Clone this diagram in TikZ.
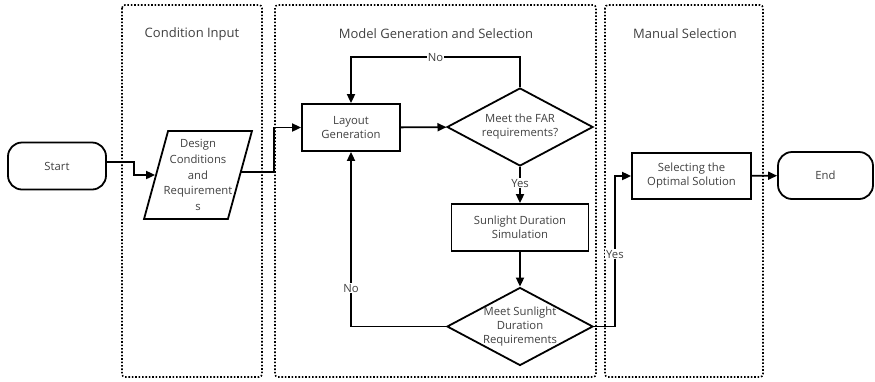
\documentclass[tikz,border=0pt]{standalone}
\usepackage{fontspec}
\setmainfont{Open Sans}
\usetikzlibrary{shapes.geometric,arrows.meta}
\definecolor{txt}{HTML}{404040}
\begin{document}
\begin{tikzpicture}[x=1pt,y=-1pt,
 panel/.style={draw, line width=1.6pt, dash pattern=on 1.6pt off 1.8pt, rounded corners=3pt},
 title/.style={font=\fontsize{13}{15}\selectfont, text=txt},
 box/.style={draw, line width=1.8pt, minimum width=98pt, minimum height=47pt, align=center, font=\fontsize{11.3}{14}\selectfont, text=txt, inner sep=2pt},
 term/.style={box, rounded corners=14pt},
 dia/.style={draw, diamond, line width=1.8pt, minimum width=146pt, minimum height=78pt, inner sep=0pt, aspect=1.87},
 diatext/.style={align=center, font=\fontsize{11.3}{14}\selectfont, text=txt, inner sep=0pt},
 lbl/.style={font=\fontsize{11.3}{13}\selectfont, text=txt, fill=white, inner sep=1pt},
 conn/.style={line width=1.8pt, -{Triangle[length=9pt,width=8pt]}},
]
\useasboundingbox (0,0) rectangle (875,381);
% panels
\draw[panel] (122,5) rectangle (262,377);
\draw[panel] (275,5) rectangle (596,377);
\draw[panel] (605,5) rectangle (763,377);
\node[title] (t1) at (192,34) {Condition Input};
\node[title] (t2) at (436,34) {Model Generation and Selection};
\node[title] (t3) at (685,34) {Manual Selection};
% nodes
\node[term, minimum width=98pt] (start) at (57,166) {Start};
\node[draw, line width=1.8pt, trapezium, trapezium left angle=72, trapezium right angle=108,
      trapezium stretches=true, minimum width=108pt, minimum height=88pt, inner sep=0pt] (design) at (198,175) {\phantom{X}};
\node[align=center, font=\fontsize{11.3}{15.6}\selectfont, text=txt, inner sep=0pt] (designtext) at (design)
      {Design\\Conditions\\and\\Requirement\\s};
\node[box] (layout) at (351,127.5) {Layout\\Generation};
\node[dia] (far) at (520,127) {};
\node[diatext] (fartext) at (far) {Meet the FAR\\requirements?};
\node[box, minimum width=137pt] (sun) at (520,227.5) {Sunlight Duration\\Simulation};
\node[dia] (sdr) at (520,326.5) {};
\node[diatext] (sdrtext) at (sdr) {Meet Sunlight\\Duration\\Requirements};
\node[box, minimum width=119pt, minimum height=46pt] (opt) at (691.5,176) {Selecting the\\Optimal Solution};
\node[term, minimum width=95pt] (end) at (825.5,175.5) {End};
% connectors
\draw[conn] ([yshift=4pt]start.east) -- ++(27,0) |- (design.west);
\draw[conn] ([yshift=3pt]design.east) -- ++(33,0) |- (layout.west);
\draw[conn] (layout) -- (far);
\draw[conn] (far.north) -- ++(0,-30) -| node[lbl, pos=0.25]{No} (layout.north);
\draw[conn] (far.south) -- node[lbl, pos=0.45]{Yes} (sun.north);
\draw[conn] (sun) -- (sdr);
\draw[conn] (sdr.west) -| node[lbl, pos=0.61]{No} (layout.south);
\draw[conn] (sdr.east) -- ++(21,0) |- node[lbl, pos=0.24]{Yes} (opt.west);
\draw[conn] (opt) -- (end);
\end{tikzpicture}
\end{document}
